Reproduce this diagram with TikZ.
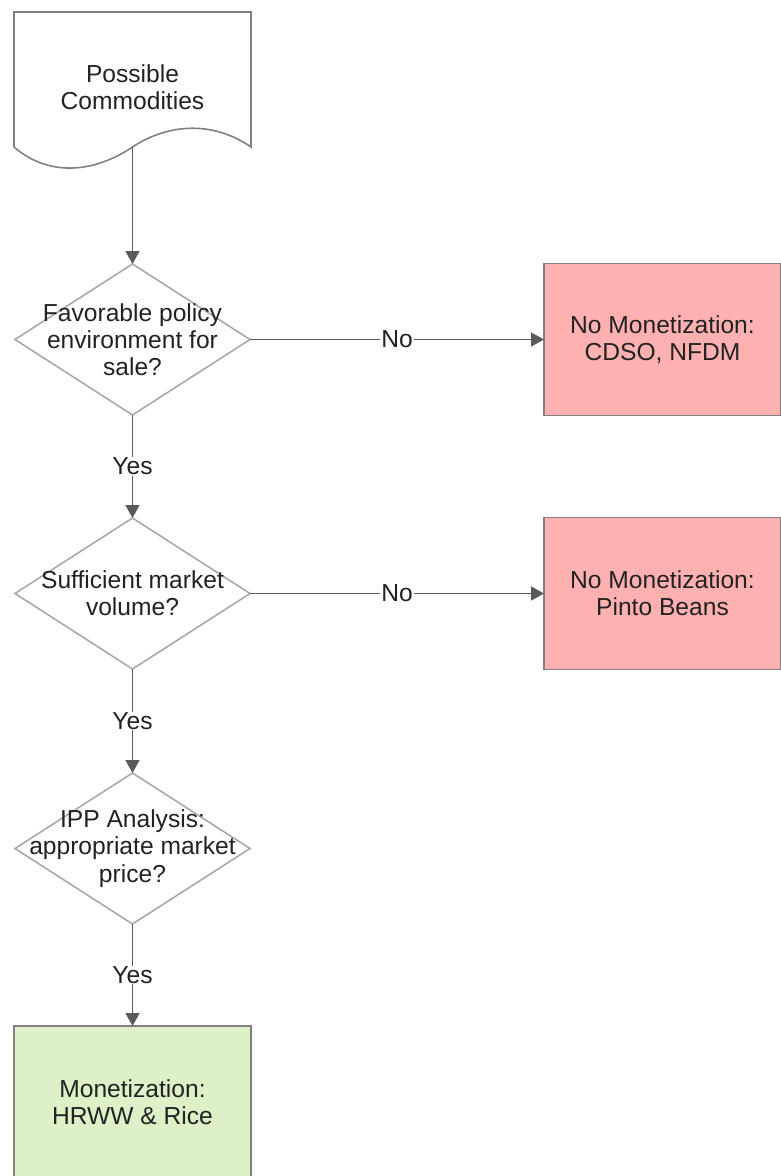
\documentclass[tikz,border=0pt]{standalone}
\usepackage{fontspec}
\setmainfont{Liberation Sans}
\usepackage{xcolor}
\usetikzlibrary{arrows.meta,positioning,shapes.geometric}

\definecolor{linegray}{HTML}{5A5A5A}
\definecolor{boxgray}{HTML}{808080}
\definecolor{diagray}{HTML}{A8A8A8}
\definecolor{nofill}{HTML}{FFB0B0}
\definecolor{yesfill}{HTML}{DDF0C8}
\definecolor{txtgray}{HTML}{222222}

\begin{document}
\begin{tikzpicture}[
  font=\fontsize{14}{15.5}\selectfont\color{txtgray},
  doc/.style={minimum width=4.74cm, minimum height=2.7cm, outer sep=0pt, inner sep=0pt},
  decision/.style={diamond, draw=diagray, line width=0.9pt, minimum width=4.7cm, minimum height=3.02cm, inner sep=0pt, outer sep=0pt},
  nobox/.style={draw=boxgray, line width=1.1pt, fill=nofill, minimum width=4.74cm, minimum height=3.04cm, align=center, outer sep=0pt},
  yesbox/.style={draw=boxgray, line width=1.1pt, fill=yesfill, minimum width=4.74cm, minimum height=3.04cm, align=center, outer sep=0pt},
  arrow/.style={-{Triangle[length=2.6mm, width=2.8mm]}, draw=linegray, fill=linegray, line width=0.9pt},
  answer/.style={fill=white, inner sep=0.5pt, text=txtgray},
]
\useasboundingbox (0,0) rectangle (15.62,-23.52);

\node[doc] (start) at (2.65,-1.59) {};
\node[align=center, below=0.92cm of start.north] (starttext) {Possible\\Commodities};
\draw[boxgray, line width=0.9pt] (start.south west) -- (start.north west) -- (start.north east) -- (start.south east)
  .. controls +(-0.72,0.5) and +(0.76,0.5) .. (start.south)
  .. controls +(-0.74,-0.5) and +(0.72,-0.62) .. (start.south west);

\node[decision, below=2.34cm of start] (policy) {};
\node[align=center] (policytext) at (policy) {Favorable policy\\environment for\\sale?};
\node[decision, below=2.06cm of policy] (volume) {};
\node[align=center] (volumetext) at (volume) {Sufficient market\\volume?};
\node[decision, below=2.08cm of volume] (price) {};
\node[align=center] (pricetext) at (price) {IPP Analysis:\\appropriate market\\price?};
\node[yesbox, below=2.04cm of price] (mon) {Monetization:\\HRWW \& Rice};

\node[nobox, right=5.88cm of policy] (nomon1) {No Monetization:\\CDSO, NFDM};
\node[nobox, right=5.88cm of volume] (nomon2) {No Monetization:\\Pinto Beans};

% connectors
\draw[arrow] (start.south) -- (policy.north);
\draw[arrow] (policy) -- node[answer] {Yes} (volume);
\draw[arrow] (volume) -- node[answer] {Yes} (price);
\draw[arrow] (price) -- node[answer] {Yes} (mon);
\draw[arrow] (policy.east) -- node[answer] {No} (nomon1.west);
\draw[arrow] (volume.east) -- node[answer] {No} (nomon2.west);

\end{tikzpicture}
\end{document}
